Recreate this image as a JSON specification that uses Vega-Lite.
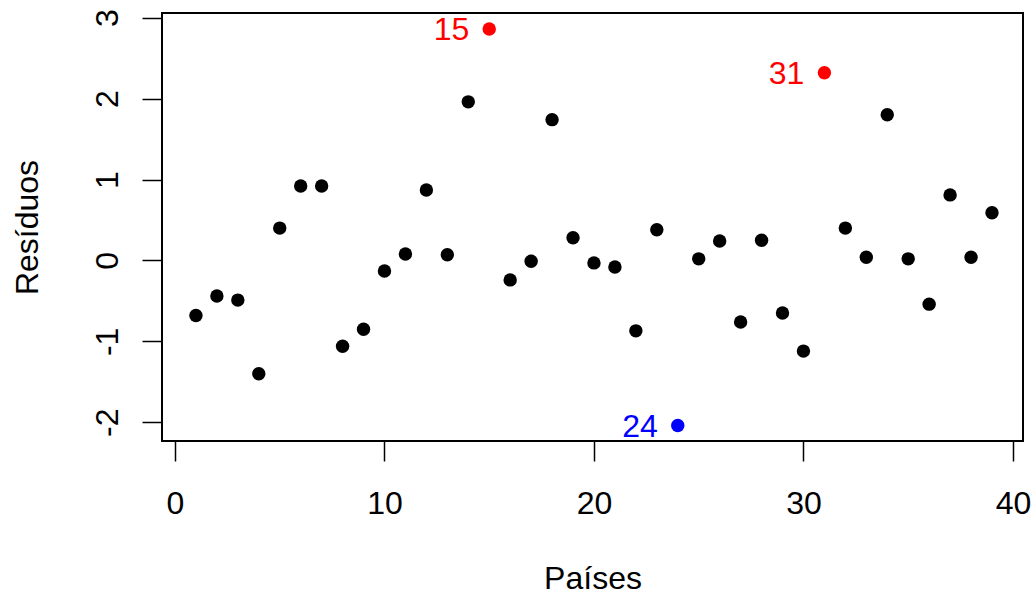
{
  "$schema": "https://vega.github.io/schema/vega-lite/v6.json",
  "autosize": "none",
  "width": 861,
  "height": 428,
  "padding": {"left": 162, "top": 13, "right": 9, "bottom": 155},
  "background": "white",
  "config": {
    "font": "Liberation Sans",
    "view": {"stroke": "#000000", "strokeWidth": 2},
    "axis": {
      "domain": false,
      "grid": false,
      "ticks": true,
      "tickColor": "#000000",
      "tickWidth": 1.5,
      "tickSize": 20,
      "labelFont": "Liberation Sans",
      "labelFontSize": 32,
      "labelColor": "#000000",
      "titleFont": "Liberation Sans",
      "titleFontSize": 32,
      "titleFontWeight": "normal",
      "titleColor": "#000000"
    }
  },
  "data": {
    "values": [
      {"pais": 1, "residuo": -0.68, "grupo": "normal"},
      {"pais": 2, "residuo": -0.44, "grupo": "normal"},
      {"pais": 3, "residuo": -0.49, "grupo": "normal"},
      {"pais": 4, "residuo": -1.40, "grupo": "normal"},
      {"pais": 5, "residuo": 0.40, "grupo": "normal"},
      {"pais": 6, "residuo": 0.92, "grupo": "normal"},
      {"pais": 7, "residuo": 0.92, "grupo": "normal"},
      {"pais": 8, "residuo": -1.06, "grupo": "normal"},
      {"pais": 9, "residuo": -0.85, "grupo": "normal"},
      {"pais": 10, "residuo": -0.13, "grupo": "normal"},
      {"pais": 11, "residuo": 0.08, "grupo": "normal"},
      {"pais": 12, "residuo": 0.87, "grupo": "normal"},
      {"pais": 13, "residuo": 0.07, "grupo": "normal"},
      {"pais": 14, "residuo": 1.96, "grupo": "normal"},
      {"pais": 15, "residuo": 2.86, "grupo": "alto"},
      {"pais": 16, "residuo": -0.24, "grupo": "normal"},
      {"pais": 17, "residuo": -0.01, "grupo": "normal"},
      {"pais": 18, "residuo": 1.74, "grupo": "normal"},
      {"pais": 19, "residuo": 0.28, "grupo": "normal"},
      {"pais": 20, "residuo": -0.03, "grupo": "normal"},
      {"pais": 21, "residuo": -0.08, "grupo": "normal"},
      {"pais": 22, "residuo": -0.87, "grupo": "normal"},
      {"pais": 23, "residuo": 0.38, "grupo": "normal"},
      {"pais": 24, "residuo": -2.04, "grupo": "baixo"},
      {"pais": 25, "residuo": 0.02, "grupo": "normal"},
      {"pais": 26, "residuo": 0.24, "grupo": "normal"},
      {"pais": 27, "residuo": -0.76, "grupo": "normal"},
      {"pais": 28, "residuo": 0.25, "grupo": "normal"},
      {"pais": 29, "residuo": -0.65, "grupo": "normal"},
      {"pais": 30, "residuo": -1.12, "grupo": "normal"},
      {"pais": 31, "residuo": 2.32, "grupo": "alto"},
      {"pais": 32, "residuo": 0.40, "grupo": "normal"},
      {"pais": 33, "residuo": 0.04, "grupo": "normal"},
      {"pais": 34, "residuo": 1.80, "grupo": "normal"},
      {"pais": 35, "residuo": 0.02, "grupo": "normal"},
      {"pais": 36, "residuo": -0.54, "grupo": "normal"},
      {"pais": 37, "residuo": 0.81, "grupo": "normal"},
      {"pais": 38, "residuo": 0.04, "grupo": "normal"},
      {"pais": 39, "residuo": 0.59, "grupo": "normal"}
    ]
  },
  "encoding": {
    "x": {
      "field": "pais",
      "type": "quantitative",
      "scale": {"domain": [-0.62, 40.48], "nice": false, "zero": false},
      "axis": {
        "title": "Países",
        "values": [0, 10, 20, 30, 40],
        "labelBaseline": "alphabetic",
        "labelPadding": 52,
        "titleBaseline": "alphabetic",
        "titlePadding": 69
      }
    },
    "y": {
      "field": "residuo",
      "type": "quantitative",
      "scale": {"domain": [-2.231, 3.058], "nice": false, "zero": false},
      "axis": {
        "title": "Resíduos",
        "values": [-2, -1, 0, 1, 2, 3],
        "labelExpr": "'' + datum.value",
        "labelAngle": 270,
        "labelAlign": "center",
        "labelBaseline": "alphabetic",
        "labelPadding": 25,
        "titleBaseline": "alphabetic",
        "titlePadding": 54
      }
    },
    "color": {
      "field": "grupo",
      "type": "nominal",
      "scale": {"domain": ["normal", "alto", "baixo"], "range": ["#000000", "#FF0000", "#0000FF"]},
      "legend": null
    }
  },
  "layer": [
    {
      "mark": {"type": "circle", "size": 180, "opacity": 1}
    },
    {
      "transform": [{"filter": "datum.grupo !== 'normal'"}],
      "mark": {"type": "text", "align": "right", "baseline": "middle", "dx": -20, "dy": 1, "fontSize": 32, "font": "Liberation Sans"},
      "encoding": {
        "text": {"field": "pais", "type": "quantitative"}
      }
    }
  ]
}
